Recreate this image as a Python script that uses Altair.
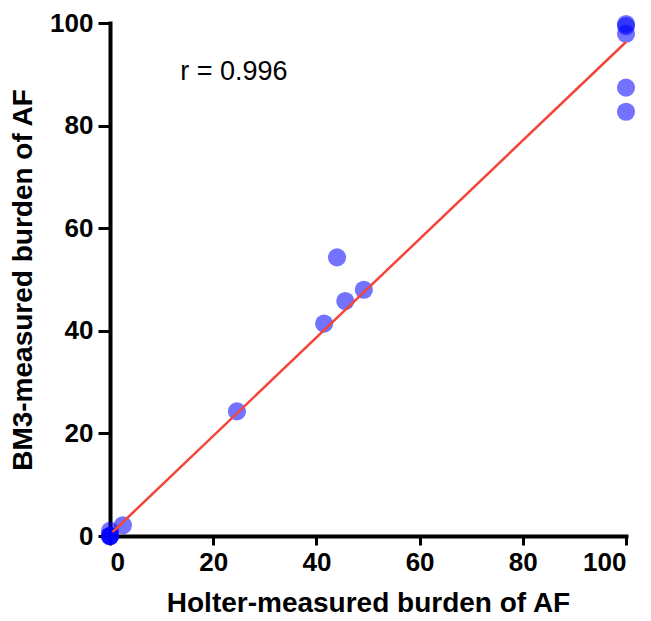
import altair as alt
import pandas as pd

holter = [0, 0, 0, 0, 0, 2.5, 24.6, 41.5, 44.0, 45.6, 49.2, 100, 100, 100, 100, 100]
bm3 = [0, 0, 0, 0, 1.0, 2.1, 24.3, 41.4, 54.3, 45.8, 48.0, 99.8, 99.4, 97.9, 87.4, 82.7]

fit_x = [0.5, 100]
fit_y = [0.78, 96.3]

label_text = ["r = 0.996"]
label_x = [24.0]
label_y = [90.4]

pts = pd.DataFrame({"x": holter, "y": bm3})
fit = pd.DataFrame({"x": fit_x, "y": fit_y})
lab = pd.DataFrame({"x": label_x, "y": label_y, "t": label_text})

xscale = alt.Scale(domain=[0, 100], nice=False, zero=False)
yscale = alt.Scale(domain=[0, 100], nice=False, zero=False)

axis_common = dict(
    domainColor="black", domainWidth=4, domainCap="square", tickColor="black", tickWidth=3,
    labelFont="Liberation Sans", labelFontSize=26, labelFontWeight="bold", labelColor="black",
    titleFont="Liberation Sans", titleFontSize=28, titleFontWeight="bold", titleColor="black",
    grid=False, values=[0, 20, 40, 60, 80, 100], zindex=0,
)

points = alt.Chart(pts).mark_circle(size=330, color="#0000ff", opacity=0.55, clip=False).encode(
    x=alt.X("x:Q", scale=xscale, axis=alt.Axis(title="Holter-measured burden of AF", titlePadding=14, labelPadding=4, tickSize=9, **axis_common)),
    y=alt.Y("y:Q", scale=yscale, axis=alt.Axis(title="BM3-measured burden of AF", titlePadding=12, labelPadding=5, tickSize=12, **axis_common)),
)

line = alt.Chart(fit).mark_line(color="#f2463a", strokeWidth=2.5).encode(
    x=alt.X("x:Q", scale=xscale),
    y=alt.Y("y:Q", scale=yscale),
)

text = alt.Chart(lab).mark_text(font="Liberation Sans", fontSize=27, color="black", align="center", baseline="middle").encode(
    x=alt.X("x:Q", scale=xscale),
    y=alt.Y("y:Q", scale=yscale),
    text="t:N",
)

chart = alt.layer(points, line, text).properties(
    width=516, height=513,
    background="white",
    autosize=alt.AutoSizeParams(type="none"),
    padding={"left": 102, "top": 15, "right": 17, "bottom": 85},
).configure_view(strokeWidth=0).configure_axis(grid=False)

chart.save("out.html", embed_options={"renderer": "svg", "actions": False})
